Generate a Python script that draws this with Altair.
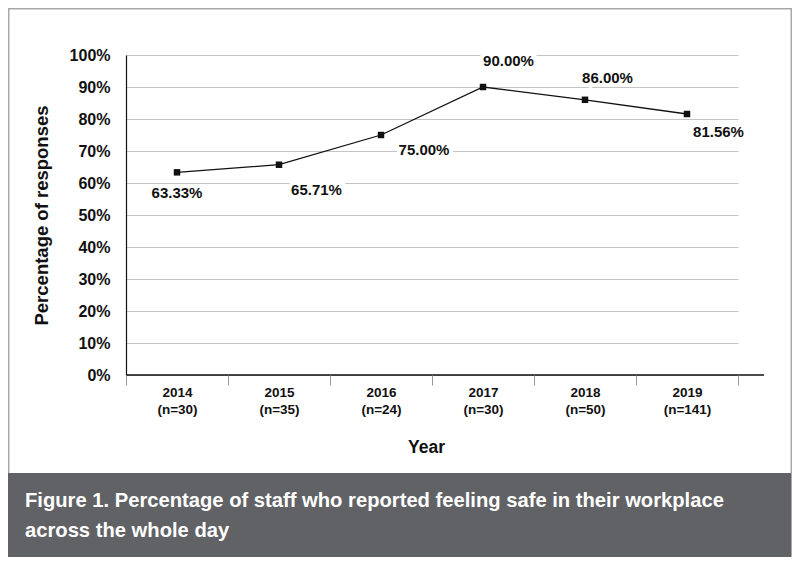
import altair as alt
import pandas as pd

# ---- data ----
years = ["2014", "2015", "2016", "2017", "2018", "2019"]
ns = [30, 35, 24, 30, 50, 141]
values = [63.33, 65.71, 75.00, 90.00, 86.00, 81.56]

caption_lines = [
    "Figure 1. Percentage of staff who reported feeling safe in their workplace",
    "across the whole day",
]

cats = [f"{y}\n(n={n})" for y, n in zip(years, ns)]
df = pd.DataFrame({
    "cat": cats,
    "year": years,
    "value": [v / 100 for v in values],
    "label": [f"{v:.2f}%" for v in values],
})

FONT = "Liberation Sans, Arial, sans-serif"
W, H = 638, 320
BAND_RANGE = [0, 612]

# label offsets (style)
OFFSETS = {
    "2014": (0, 26),
    "2015": (37.5, 30),
    "2016": (43, 20),
    "2017": (25.5, -21),
    "2018": (22.5, -17),
    "2019": (31.5, 23),
}

x_enc = alt.X(
    "cat:N", sort=None,
    scale=alt.Scale(range=BAND_RANGE, paddingInner=0, paddingOuter=0),
    axis=alt.Axis(
        title="Year", titleFont=FONT, titleFontSize=17.5, titleFontWeight="bold",
        titleColor="#111", titleX=300, titleY=77, titleBaseline="alphabetic",
        labelFont=FONT, labelFontSize=13.5, labelFontWeight="bold", labelColor="#111",
        labelLineHeight=17.5, labelExpr="split(datum.label, '\\n')", labelAngle=0,
        labelPadding=0,
        tickBand="extent", ticks=True, tickSize=10, tickColor="#999", tickWidth=1,
        domain=False, grid=False, zindex=1,
    ),
)
y_enc = alt.Y(
    "value:Q",
    scale=alt.Scale(domain=[0, 1], nice=False, zero=True),
    axis=alt.Axis(
        title="Percentage of responses", titleFont=FONT, titleFontSize=18.5,
        titleFontWeight="bold", titleColor="#111",
        titleX=-78.5, titleY=160, titleBaseline="alphabetic", titleAlign="center",
        values=[i / 10 for i in range(11)], format=".0%",
        labelFont=FONT, labelFontSize=16, labelFontWeight="bold", labelColor="#111",
        labelPadding=16, ticks=False,
        domain=True, domainColor="#111", domainWidth=1.2,
        grid=True, gridColor="#c4c4c4", gridWidth=1, zindex=0,
    ),
)

one = alt.Data(values=[{"a": 1}])

border = alt.Chart(one).mark_rect(fill="white", fillOpacity=0, stroke="#a9a9a9", strokeWidth=1.5).encode(
    x=alt.value(-117.25), x2=alt.value(665.25), y=alt.value(-46.25), y2=alt.value(501)
)
caption_box = alt.Chart(one).mark_rect(fill="#616266").encode(
    x=alt.value(-118), x2=alt.value(665), y=alt.value(418), y2=alt.value(502)
)
cap1 = alt.Chart(one).mark_text(
    text=caption_lines[0], font=FONT, fontSize=20.2, fontWeight="bold", color="white",
    align="left", baseline="alphabetic",
).encode(x=alt.value(-101), y=alt.value(452))
cap2 = alt.Chart(one).mark_text(
    text=caption_lines[1], font=FONT, fontSize=20.2, fontWeight="bold", color="white",
    align="left", baseline="alphabetic",
).encode(x=alt.value(-101), y=alt.value(482))

base = alt.Chart(df).encode(x=x_enc, y=y_enc)
line = base.mark_line(color="#111", strokeWidth=1.3)
points = base.mark_point(shape="square", filled=True, color="#111", size=42, opacity=1)

x_axis_line = alt.Chart(one).mark_rule(color="#111", strokeWidth=1.3).encode(
    x=alt.value(0), x2=alt.value(W), y=alt.value(H)
)

label_layers = []
for yr, (dx, dy) in OFFSETS.items():
    sub = base.transform_filter(alt.datum.year == yr)
    halo = sub.mark_text(
        font=FONT, fontSize=15, fontWeight="bold", dx=dx, dy=dy,
        baseline="alphabetic", stroke="white", strokeWidth=8, fill="white",
    ).encode(text="label:N")
    txt = sub.mark_text(
        font=FONT, fontSize=15, fontWeight="bold", dx=dx, dy=dy,
        baseline="alphabetic", color="#111",
    ).encode(text="label:N")
    label_layers += [halo, txt]

chart = alt.layer(
    border, caption_box, cap1, cap2, base.mark_point(opacity=0), *label_layers,
    line, points, x_axis_line,
).properties(
    width=W, height=H,
    autosize=alt.AutoSizeParams(type="none"),
    padding={"left": 118, "top": 47, "right": 28, "bottom": 182},
    background="white",
).configure_view(stroke=None)

chart.save("out.html", embed_options={"renderer": "svg", "actions": False})
